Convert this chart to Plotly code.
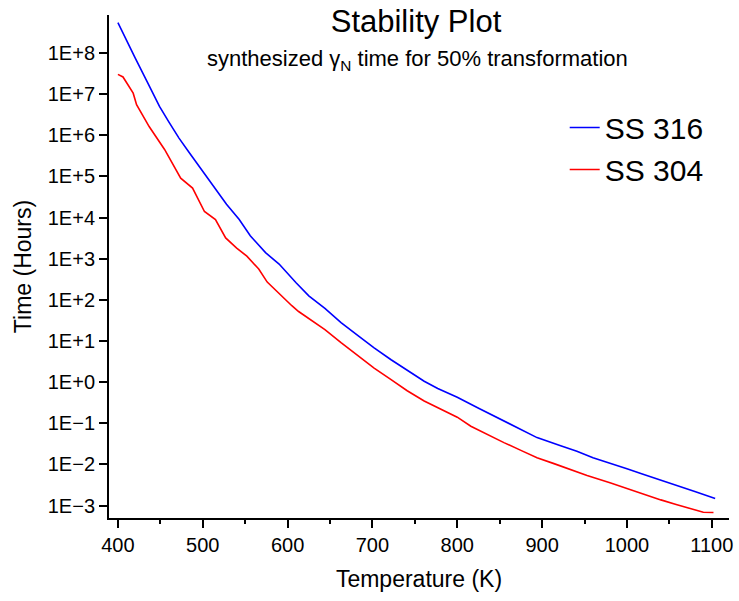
import plotly.graph_objects as go

# SS 316 (blue) - temperature (K) and time (hours)
t316 = [400, 410, 420, 435, 449, 460, 472, 484, 496, 505, 515, 528, 543, 556, 574,
        590, 610, 625, 644, 663, 683, 702, 722, 741, 761, 777, 800, 824, 855, 875,
        894, 921, 941, 960, 980, 1000, 1019, 1040, 1058, 1080, 1104]
h316 = [5.4e8, 2.0e8, 7.8e7, 1.9e7, 5.0e6, 2.1e6, 8.5e5, 3.8e5, 1.7e5, 9.3e4, 4.7e4,
        2.1e4, 8.9e3, 3.6e3, 1.4e3, 7.4e2, 2.6e2, 1.25e2, 62, 28, 13.5, 6.8, 3.5, 1.9,
        1.05, 0.7, 0.43, 0.24, 0.112, 0.069, 0.045, 0.029, 0.021, 0.0145, 0.0108,
        0.0079, 0.0058, 0.0042, 0.0032, 0.0022, 0.0015]

# SS 304 (red)
t304 = [400, 406, 418, 422, 437, 455, 474, 488, 502, 515, 527, 540, 552, 566, 576,
        582, 605, 613, 644, 663, 683, 702, 722, 741, 761, 777, 800, 816, 835, 855,
        875, 894, 914, 933, 953, 980, 1000, 1019, 1040, 1058, 1080, 1090, 1102]
h304 = [3.0e7, 2.6e7, 1.05e7, 5.5e6, 1.6e6, 4.5e5, 9.0e4, 5.2e4, 1.4e4, 8.9e3, 3.2e3,
        1.8e3, 1.15e3, 560, 270, 204, 72, 52, 19, 9.1, 4.3, 2.2, 1.15, 0.62, 0.35,
        0.24, 0.141, 0.085, 0.054, 0.034, 0.022, 0.0145, 0.0105, 0.0076, 0.0054,
        0.0036, 0.0026, 0.00186, 0.00138, 0.00107, 0.00079, 0.00069, 0.00068]

y_tickvals = [1e8, 1e7, 1e6, 1e5, 1e4, 1e3, 1e2, 1e1, 1e0, 1e-1, 1e-2, 1e-3]
y_ticktext = ["1E+8", "1E+7", "1E+6", "1E+5", "1E+4", "1E+3", "1E+2", "1E+1",
              "1E+0", "1E\u22121", "1E\u22122", "1E\u22123"]
x_tickvals = [400, 500, 600, 700, 800, 900, 1000, 1100]

FONT = "Arial, Liberation Sans, sans-serif"

fig = go.Figure()
fig.add_trace(go.Scatter(x=t316, y=h316, mode="lines", name="SS 316",
                         line=dict(color="#0000ff", width=1.6)))
fig.add_trace(go.Scatter(x=t304, y=h304, mode="lines", name="SS 304",
                         line=dict(color="#ff0000", width=1.6)))

fig.update_layout(
    width=739, height=601,
    margin=dict(l=109, r=6, t=15, b=83),
    paper_bgcolor="white", plot_bgcolor="white",
    font=dict(family=FONT, color="black"),
    title=dict(text="Stability Plot", x=416/739, xanchor="center",
               y=1 - 21/601, yanchor="middle", yref="container",
               font=dict(size=31, family=FONT, color="black")),
    legend=dict(x=0.735, y=0.828, xanchor="left", yanchor="top",
                font=dict(size=30, family=FONT, color="black"),
                bgcolor="rgba(0,0,0,0)", tracegroupgap=0),
    annotations=[dict(text="synthesized \u03b3<sub>N</sub> time for 50% transformation",
                      x=0.498, y=0.910, xref="paper", yref="paper",
                      xanchor="center", yanchor="middle", showarrow=False,
                      font=dict(size=22, family=FONT, color="black"))],
)

fig.update_xaxes(
    range=[389.5, 1120.3], tickvals=x_tickvals,
    showgrid=False, zeroline=False, showline=True, linecolor="black", linewidth=2,
    ticks="outside", ticklen=8, tickwidth=1.5, tickcolor="black",
    tickfont=dict(size=20, family=FONT, color="black"),
    minor=dict(ticks="outside", ticklen=4, tickwidth=1.5, tickcolor="black", dtick=50,
               showgrid=False),
    title=dict(text="Temperature (K)", font=dict(size=23, family=FONT, color="black"),
               standoff=16),
)
fig.update_yaxes(
    type="log", range=[-3.30, 8.92], tickvals=y_tickvals, ticktext=y_ticktext,
    showgrid=False, zeroline=False, showline=True, linecolor="black", linewidth=2,
    ticks="outside", ticklen=8, tickwidth=1.5, tickcolor="black",
    tickfont=dict(size=20, family=FONT, color="black"),
    title=dict(text="Time (Hours)", font=dict(size=23, family=FONT, color="black"),
               standoff=10),
)

fig.write_html("out.html")
